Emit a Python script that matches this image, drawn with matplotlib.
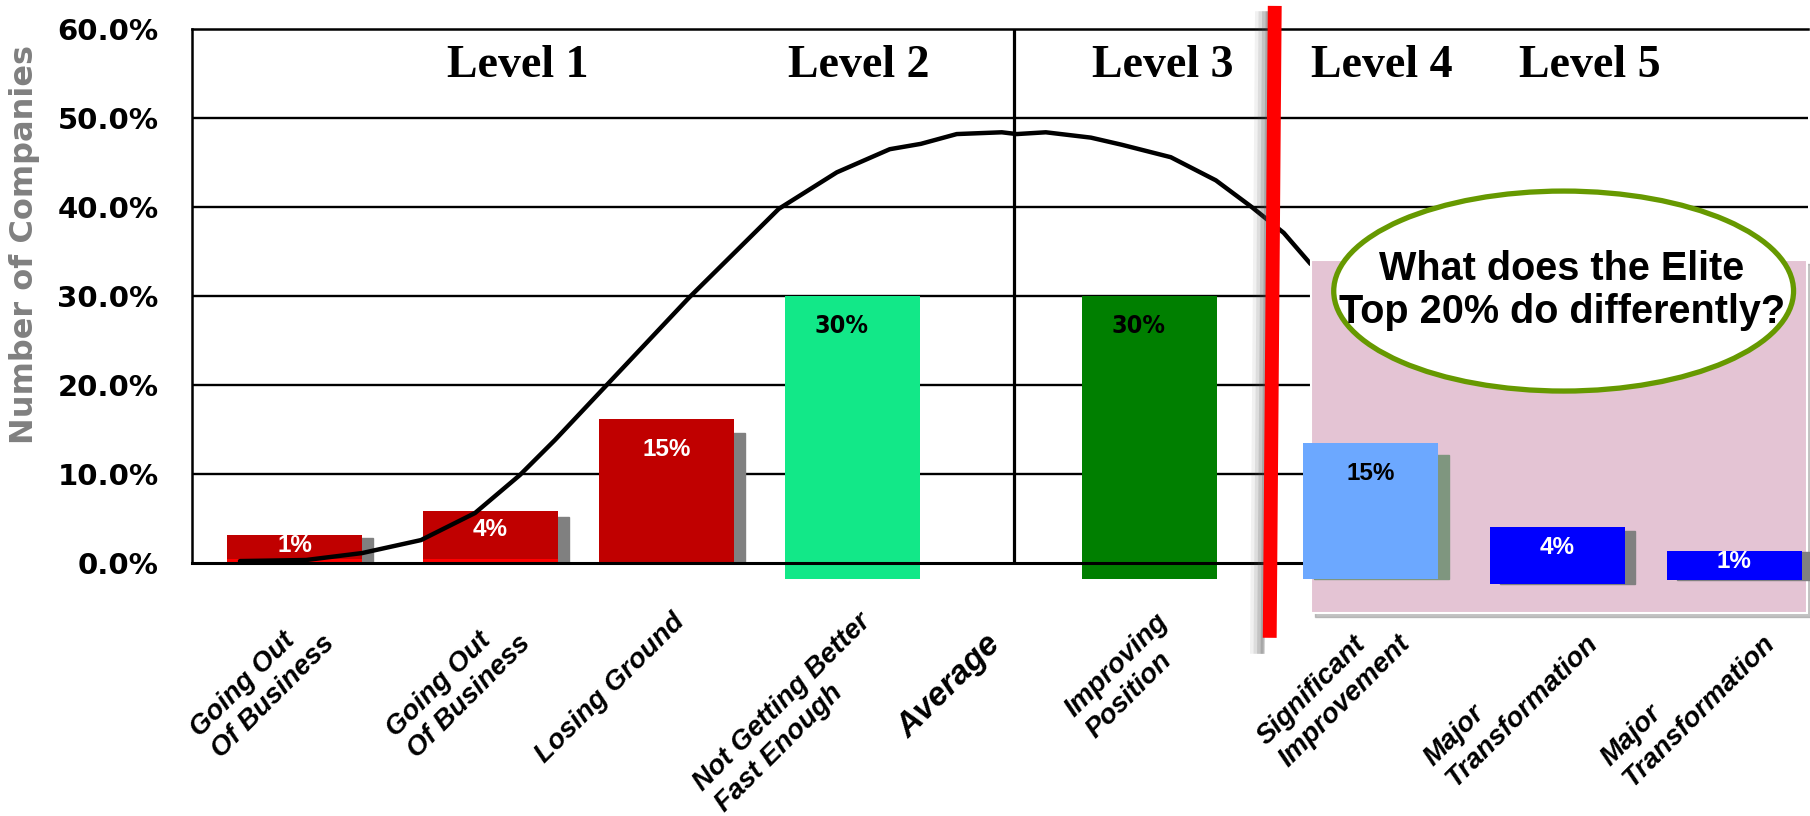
import matplotlib.pyplot as plt
from matplotlib.patches import Rectangle, Ellipse

# categories along the bottom (Average sits between the two 30% bars)
categories = ['Going Out\nOf Business', 'Going Out\nOf Business', 'Losing Ground',
              'Not Getting Better\nFast Enough', 'Average', 'Improving\nPosition',
              'Significant\nImprovement', 'Major\nTransformation', 'Major\nTransformation']
bar_labels = ['1%', '4%', '15%', '30%', '30%', '15%', '4%', '1%']
bar_values = [3.1, 5.8, 16.2, 30.0, 30.0, 13.5, 4.0, 1.35]
bar_base = [0, 0, 0, -1.8, -1.8, -1.8, -2.4, -1.9]
levels = ['Level 1', 'Level 2', 'Level 3', 'Level 4', 'Level 5']
yticks = [0, 10, 20, 30, 40, 50, 60]
ytick_labels = ['0.0%', '10.0%', '20.0%', '30.0%', '40.0%', '50.0%', '60.0%']

# hand drawn bell curve
curve_x = [0.267, 0.635, 0.947, 1.275, 1.576, 1.826, 2.021, 2.272, 2.767, 3.268, 3.591,
           3.886, 4.059, 4.259, 4.510, 4.593, 4.755, 5.006, 5.178, 5.451, 5.702, 5.902,
           6.080, 6.230]
curve_y = [0.22, 0.34, 1.12, 2.58, 5.62, 9.89, 13.82, 19.2, 29.8, 39.8, 43.9, 46.5, 47.1,
           48.2, 48.4, 48.2, 48.4, 47.8, 47.0, 45.6, 43.0, 40.0, 37.1, 33.6]

# layout / style
cat_pos = [0.571, 1.662, 2.642, 3.678, 4.577, 5.331, 6.562, 7.603, 8.589]
bar_pos = cat_pos[:4] + cat_pos[5:]
level_pos = [1.812, 3.714, 5.406, 6.626, 7.784]
bar_w = 0.752
bar_colors = ['#C00000', '#C00000', '#C00000', '#12E888', '#007F00', '#6CA8FF', '#0000FF', '#0000FF']
label_colors = ['white', 'white', 'white', 'black', 'black', 'black', 'white', 'white']
shadow_colors = ['#808080', '#808080', '#808080', None, None, '#7F967F', '#808080', '#808080']

fig = plt.figure(figsize=(18.1, 8.16), dpi=100)
ax = fig.add_axes([0.1061, 0.3100, 0.8928, 0.6544])
ax.set_xlim(0, 9)
ax.set_ylim(0, 60)

ax.spines['right'].set_visible(False)
ax.spines['left'].set_linewidth(1.8)
ax.spines['top'].set_linewidth(1.8)
ax.spines['bottom'].set_linewidth(2.2)
for y in yticks[1:-1]:
    ax.axhline(y, color='black', lw=1.7, zorder=0.5)

ax.set_yticks(yticks, ytick_labels, fontsize=21, fontweight='bold', family='DejaVu Sans')
ax.tick_params(axis='y', length=0, pad=24)
ax.set_xticks([])

# slanted category labels under the axis
for x, name in zip(cat_pos, categories):
    big = name == 'Average'
    ax.annotate(name, xy=(x, 0), xycoords=('data', 'axes fraction'),
                xytext=(-21, -47) if big else (4, -33), textcoords='offset points',
                rotation=45, rotation_mode='anchor', ha='right', va='top',
                multialignment='left', linespacing=1.2, family='Liberation Sans',
                fontweight='bold', fontstyle='italic', fontsize=24 if big else 20,
                annotation_clip=False)

fig.text(0.0138, 0.700, 'Number of Companies', rotation=90, ha='center', va='center',
         fontsize=23, fontweight='bold', color='#808080', family='DejaVu Sans')

# average line
ax.plot([cat_pos[4], cat_pos[4]], [0, 60], color='black', lw=2.3, zorder=1)

# bars with drop shadows
for i, (x, v, b) in enumerate(zip(bar_pos, bar_values, bar_base)):
    z = 2 if i < 5 else 5
    if shadow_colors[i]:
        ax.add_patch(Rectangle((x - bar_w / 2 + 0.06, b), bar_w, v * 0.9 - b,
                               color=shadow_colors[i], zorder=z - 0.1, clip_on=False))
    ax.bar(x, v - b, bottom=b, width=bar_w, color=bar_colors[i], zorder=z, clip_on=False)
    if i < 2:
        ax.bar(x, 0.5, bottom=0, width=bar_w, color='#FF0000', zorder=z + 0.05)
    off = min(3.4, 0.35 * (v - b))
    if i in (3, 4):
        ax.text(x - 0.06, v - off, bar_labels[i], ha='center', va='center', fontsize=18,
                fontweight='bold', fontstretch='condensed', color=label_colors[i],
                family='DejaVu Sans', zorder=z + 1)
    else:
        ax.text(x, v - off, bar_labels[i], ha='center', va='center', fontsize=17.5,
                fontweight='bold', color=label_colors[i], family='Liberation Sans', zorder=z + 1)

# the curve
ax.plot(curve_x, curve_y, color='black', lw=3.2, zorder=3, solid_capstyle='round',
        solid_joinstyle='round')

# level headings
for x, name in zip(level_pos, levels):
    ax.text(x, 55.8, name, ha='center', va='center', fontsize=33, fontweight='bold',
            family='Liberation Serif', zorder=3)

# red divider with soft shadow
for k, a in enumerate([0.08, 0.12, 0.18, 0.25]):
    dx = -0.075 + k * 0.012
    ax.plot([6.030 + dx, 6.002 + dx], [62.0, -10.2], color='#505050', lw=9 - k * 2,
            alpha=a, solid_capstyle='butt', zorder=3.5, clip_on=False)
ax.plot([6.030, 6.002], [62.6, -8.4], color='#FF0000', lw=10, solid_capstyle='butt',
        zorder=3.6, clip_on=False)

# pink highlight box
ax.add_patch(Rectangle((6.255, -6.1), 2.761, 39.66, color='#9a9a9a', alpha=0.6,
                       zorder=3.8, clip_on=False))
ax.add_patch(Rectangle((6.231, -5.62), 2.761, 39.66, facecolor='#E4C4D4', edgecolor='white',
                       lw=1.5, zorder=4, clip_on=False))

# ellipse callout
ax.add_patch(Ellipse((7.639, 30.56), 2.561, 22.47, facecolor='white', edgecolor='#669900',
                     lw=3.8, zorder=6, clip_on=False))
ax.text(7.63, 30.6, 'What does the Elite\nTop 20% do differently?', ha='center', va='center',
        fontsize=28.5, fontweight='bold', family='Liberation Sans', linespacing=1.15, zorder=7)

fig.savefig('out.png', dpi=100)
